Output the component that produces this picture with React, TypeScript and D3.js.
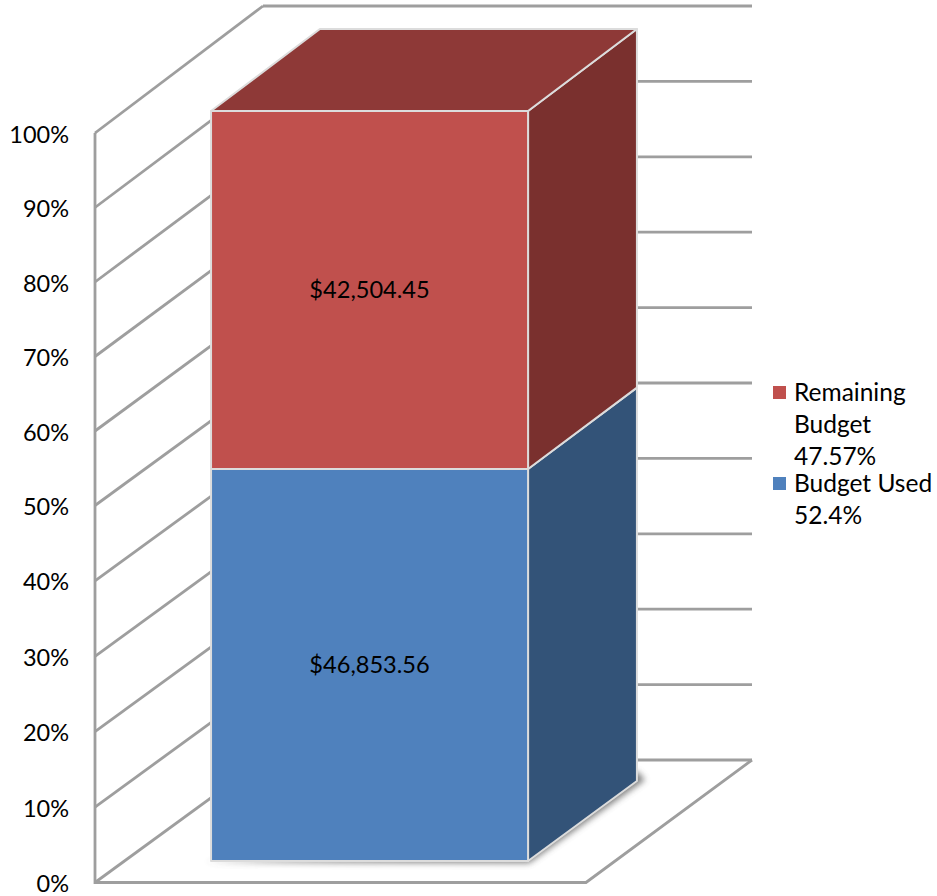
import React from 'react';
import * as d3 from 'd3';

// 3D stacked column, 100% scale, drawn as polygons between a front and a back plane.
const category = 'Budget';
const seriesNames = ['Budget Used', 'Remaining Budget'];
const seriesAmounts = [46853.56, 42504.45];
const amountLabels = ['$46,853.56', '$42,504.45'];
const percentTicks = [0, 10, 20, 30, 40, 50, 60, 70, 80, 90, 100];
const legendLines = [
  ['Remaining', 'Budget', '47.57%'],
  ['Budget Used', '52.4%'],
];

const FRONT_COLORS = ['#4F81BD', '#C0504D'];
const SIDE_COLORS = ['#335378', '#7A302E'];
const TOP_COLOR = '#8E3937';
const LEGEND_COLORS = ['#C0504D', '#4F81BD'];
const GRID = '#9E9E9E';
const EDGE = '#DCDCDC';
const FONT = 'Lato, "Open Sans", sans-serif';

const WIDTH = 937;
const HEIGHT = 896;

export default function App() {
  // wall planes; the front plane has a little perspective, hence the middle stop
  const wallFront = d3.scaleLinear().domain([0, 50, 100]).range([882.5, 505.5, 133]);
  const wallBack = d3.scaleLinear().domain([0, 100]).range([760, 6]);
  const floorFront = d3.scaleBand().domain([category]).range([95, 586]).paddingInner(0).paddingOuter(0.2744).align(0.667);
  const floorBack = d3.scaleBand().domain([category]).range([263, 752]).paddingInner(0).paddingOuter(0.2713).align(0.331);

  // bar planes
  const barFront = d3.scaleLinear().domain([0, 50, 100]).range([861, 487.3, 111]);
  const barBack = d3.scaleLinear().domain([0, 50, 100]).range([781, 406, 29]);

  const total = d3.sum(seriesAmounts);
  const row: any = { [seriesNames[0]]: seriesAmounts[0], [seriesNames[1]]: seriesAmounts[1] };
  const stacked = d3.stack().keys(seriesNames)([row]);

  const x0 = floorFront(category) as number;
  const x1 = x0 + floorFront.bandwidth();
  const bx0 = floorBack(category) as number;
  const bx1 = bx0 + floorBack.bandwidth();
  const pct = (v: number) => (v / total) * 100;

  const poly = d3.line();

  return (
    <svg
      width={WIDTH}
      height={HEIGHT}
      style={{ position: 'absolute', left: 0, top: 0, display: 'block', background: '#fff' }}
      fontFamily={FONT}
    >
      <defs>
        <filter id="barShadow" x="-10%" y="-10%" width="120%" height="120%">
          <feGaussianBlur stdDeviation="3" />
        </filter>
      </defs>

      {/* back wall gridlines, mostly hidden by the bar */}
      {percentTicks.map((t) => (
        <line key={`b${t}`} x1={floorBack.range()[0]} x2={floorBack.range()[1]} y1={wallBack(t)} y2={wallBack(t)}
          stroke={GRID} strokeWidth={2.8} />
      ))}
      {/* side wall gridlines */}
      {percentTicks.map((t) => (
        <line key={`s${t}`} x1={floorFront.range()[0]} x2={floorBack.range()[0]} y1={wallFront(t)} y2={wallBack(t)}
          stroke={GRID} strokeWidth={2.8} />
      ))}
      {/* vertical axis and floor */}
      <path
        d={poly([
          [floorFront.range()[0], wallFront(100)],
          [floorFront.range()[0], wallFront(0)],
          [floorFront.range()[1], wallFront(0)],
          [floorBack.range()[1], wallBack(0)],
        ]) as string}
        fill="none"
        stroke={GRID}
        strokeWidth={2.8}
      />
      {percentTicks.map((t) => (
        <text key={`l${t}`} x={69} y={wallFront(t) + 9.5} textAnchor="end" fontSize={23.5} fill="#000">
          {t}%
        </text>
      ))}

      {/* soft shadow at the foot of the bar */}
      <path
        d={poly([
          [x0 - 7, barFront(0) + 1],
          [x1 + 1, barFront(0) + 2],
          [bx1 + 8, barBack(0) - 1],
          [bx1, barBack(0) - 10],
          [x1 - 10, barFront(0) - 10],
        ]) as string}
        fill="#555"
        opacity={0.75}
        filter="url(#barShadow)"
      />

      {stacked.map((s, i) => {
        const lo = pct(s[0][0]);
        const hi = pct(s[0][1]);
        return (
          <g key={s.key} stroke={EDGE} strokeWidth={2} strokeLinejoin="round">
            {/* side face */}
            <path
              d={(poly([
                [x1, barFront(lo)],
                [bx1, barBack(lo)],
                [bx1, barBack(hi)],
                [x1, barFront(hi)],
              ]) as string) + 'Z'}
              fill={SIDE_COLORS[i]}
            />
            {/* front face */}
            <rect x={x0} y={barFront(hi)} width={x1 - x0} height={barFront(lo) - barFront(hi)} fill={FRONT_COLORS[i]} />
            {i === stacked.length - 1 && (
              <path
                d={(poly([
                  [x0, barFront(hi)],
                  [bx0, barBack(hi)],
                  [bx1, barBack(hi)],
                  [x1, barFront(hi)],
                ]) as string) + 'Z'}
                fill={TOP_COLOR}
              />
            )}
          </g>
        );
      })}

      {stacked.map((s, i) => (
        <text
          key={`v${s.key}`}
          x={(x0 + x1) / 2}
          y={(barFront(pct(s[0][0])) + barFront(pct(s[0][1]))) / 2 + 8.5}
          textAnchor="middle"
          fontSize={23.6}
          fill="#000"
        >
          {amountLabels[i]}
        </text>
      ))}

      {/* legend */}
      <rect x={773} y={386} width={13} height={13} fill={LEGEND_COLORS[0]} />
      <rect x={773} y={477} width={13} height={13} fill={LEGEND_COLORS[1]} />
      {legendLines[0].map((t, i) => (
        <text key={t} x={794} y={401 + i * 32} fontSize={24.5} fill="#000">{t}</text>
      ))}
      {legendLines[1].map((t, i) => (
        <text key={t} x={794} y={492 + i * 32} fontSize={24.5} fill="#000">{t}</text>
      ))}
    </svg>
  );
}
